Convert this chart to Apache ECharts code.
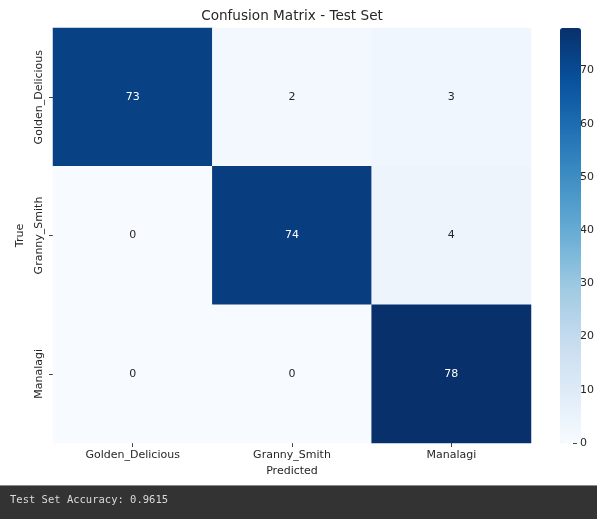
<!DOCTYPE html>
<html>
<head>
<meta charset="utf-8">
<script src="https://cdn.jsdelivr.net/npm/echarts@6/dist/echarts.min.js"></script>
<style>
html,body{margin:0;padding:0;background:#fff;}
#chart{width:597px;height:519px;}
</style>
</head>
<body>
<div id="chart"></div>
<script>
// ---- data ----
var categories = ['Golden_Delicious', 'Granny_Smith', 'Manalagi'];
var rowGolden = [73, 2, 3];
var rowGranny = [0, 74, 4];
var rowManalagi = [0, 0, 78];
var colorbarTicks = [0, 10, 20, 30, 40, 50, 60, 70];
var vMin = 0, vMax = 78;
var titleText = 'Confusion Matrix - Test Set';
var accuracyText = 'Test Set Accuracy: 0.9615';

var rows = [rowGolden, rowGranny, rowManalagi];
var blues = ['#f7fbff','#deebf7','#c6dbef','#9ecae1','#6baed6','#4292c6','#2171b5','#08519c','#08306b'];

var data = [];
rows.forEach(function (row, yi) {
  row.forEach(function (v, xi) {
    data.push({
      value: [xi, yi, v],
      label: { color: v > (vMax + vMin) / 2 ? '#ffffff' : '#262626' }
    });
  });
});

var txt = '#262626';
var font = 'DejaVu Sans';
var chart = echarts.init(document.getElementById('chart'));
chart.setOption({
  animation: false,
  backgroundColor: '#ffffff',
  grid: [
    { left: 53, top: 28, width: 478, height: 415 },
    { left: 560, top: 28, width: 21, height: 415 }
  ],
  xAxis: [
    {
      type: 'category', data: categories, gridIndex: 0,
      name: 'Predicted', nameLocation: 'middle', nameGap: 23,
      nameTextStyle: { fontFamily: font, fontSize: 11, color: txt },
      axisLine: { show: false },
      axisTick: { show: true, alignWithLabel: true, length: 4, lineStyle: { color: '#444' } },
      axisLabel: { fontFamily: font, fontSize: 11, color: txt, margin: 7 },
      splitLine: { show: false }
    },
    { type: 'value', gridIndex: 1, show: false, min: 0, max: 1 }
  ],
  yAxis: [
    {
      type: 'category', data: categories, gridIndex: 0, inverse: true,
      name: 'True', nameLocation: 'middle', nameGap: 23, nameRotate: 90,
      nameTextStyle: { fontFamily: font, fontSize: 11, color: txt },
      axisLine: { show: false },
      axisTick: { show: true, alignWithLabel: true, length: 4, lineStyle: { color: '#444' } },
      axisLabel: { fontFamily: font, fontSize: 11, color: txt, rotate: 90, margin: 8 },
      splitLine: { show: false }
    },
    {
      type: 'value', gridIndex: 1, position: 'right', min: vMin, max: vMax,
      axisLine: { show: false, onZero: false },
      splitLine: { show: false },
      axisTick: { show: true, length: 4, customValues: colorbarTicks, lineStyle: { color: '#444' } },
      axisLabel: { fontFamily: font, fontSize: 11, color: txt, margin: 7, customValues: colorbarTicks }
    }
  ],
  visualMap: {
    type: 'continuous', min: vMin, max: vMax, calculable: false,
    seriesIndex: 0,
    left: 560, top: 28, itemWidth: 21, itemHeight: 415, padding: 0,
    orient: 'vertical', text: null,
    inRange: { color: blues }
  },
  series: [
    {
      type: 'heatmap', xAxisIndex: 0, yAxisIndex: 0,
      data: data,
      label: { show: true, fontFamily: font, fontSize: 11 },
      itemStyle: { borderWidth: 0 },
      emphasis: { disabled: true }
    }
  ],
  graphic: [
    { type: 'text', x: 292, y: 16, style: { text: titleText, fill: txt, font: '13.6px "DejaVu Sans"', textAlign: 'center', textVerticalAlign: 'middle' }, silent: true },
    { type: 'rect', left: 0, top: 486, shape: { width: 597, height: 33 }, style: { fill: '#333333' }, silent: true },
    { type: 'rect', left: 0, top: 485, shape: { width: 597, height: 1 }, style: { fill: '#8a8a8a' }, silent: true },
    { type: 'text', left: 10, top: 495, style: { text: accuracyText, fill: '#dcdcdc', font: '10.5px "DejaVu Sans Mono"' }, silent: true }
  ]
});
</script>
</body>
</html>
